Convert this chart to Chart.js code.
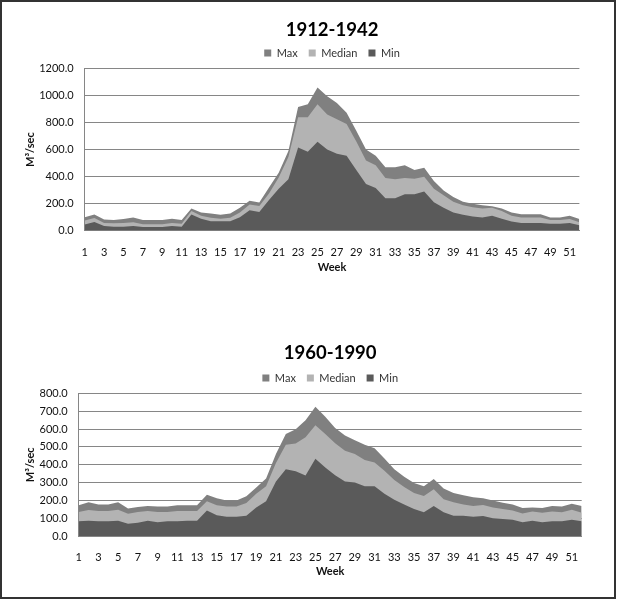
<!DOCTYPE html>
<html>
<head>
<meta charset="utf-8">
<script src="https://cdn.jsdelivr.net/npm/chart.js@4.4.1/dist/chart.umd.min.js"></script>
<style>
body{margin:0;background:#fff;}
#frame{position:absolute;left:0;top:0;width:612px;height:595px;border:2px solid #333;}
canvas{position:absolute;left:0;}
</style>
</head>
<body>
<div id="frame"></div>
<canvas id="chart1" width="620" height="290" style="top:0px"></canvas>
<canvas id="chart2" width="620" height="300" style="top:295px"></canvas>
<script>
var weeks=[1,2,3,4,5,6,7,8,9,10,11,12,13,14,15,16,17,18,19,20,21,22,23,24,25,26,
  27,28,29,30,31,32,33,34,35,36,37,38,39,40,41,42,43,44,45,46,47,48,49,50,51,52];

// 1912-1942
var max1=[100,120,82,80,87,98,80,80,80,88,80,165,135,128,118,128,170,221,208,320,428,590,915,935,1060,995,
  945,872,740,600,555,470,470,485,450,465,368,298,250,215,200,188,180,165,135,122,122,122,98,98,110,87];
var median1=[75,94,57,55,57,62,48,48,48,57,52,145,110,95,88,95,135,193,182,275,393,546,840,840,935,860,
  825,790,660,520,485,390,380,390,385,400,310,262,215,188,173,165,170,145,110,98,98,98,80,80,87,63];
var min1=[45,65,35,30,30,35,28,28,28,35,30,120,88,70,70,70,100,152,138,228,310,381,615,585,658,600,
  570,555,450,345,315,240,240,270,270,290,210,170,135,118,105,98,110,88,68,57,57,57,52,52,57,40];

// 1960-1990
var max2=[173,190,177,177,190,155,163,168,165,165,173,173,173,232,212,200,200,223,272,323,460,573,600,650,725,670,
  607,564,538,512,492,435,375,332,298,280,320,267,241,229,217,212,200,186,177,157,160,157,169,165,181,169];
var median2=[135,146,140,140,148,125,135,140,135,135,140,140,140,195,173,165,165,185,237,280,410,512,520,555,622,573,
  521,478,461,427,413,366,315,275,241,224,263,206,189,177,169,174,160,151,143,126,138,131,138,134,148,131];
var min2=[83,86,83,83,86,69,74,86,77,83,83,86,86,143,117,108,108,113,160,195,306,375,363,340,433,384,
  341,306,301,280,280,237,203,177,151,134,169,134,114,114,108,112,100,95,91,77,86,77,83,83,91,83];

var yTicks1=[0,1200,200];
var yTicks2=[0,800,100];

Chart.defaults.font.family='Lato';

function makeChart(id,title,maxData,medData,minData,yT,geo){
  var ctx=document.getElementById(id);
  new Chart(ctx,{
    type:'line',
    data:{
      labels:weeks,
      datasets:[
        {label:'Max',data:maxData,backgroundColor:'#808080',order:3},
        {label:'Median',data:medData,backgroundColor:'#b3b3b3',order:2},
        {label:'Min',data:minData,backgroundColor:'#5a5a5a',order:1}
      ]
    },
    options:{
      responsive:false,
      animation:false,
      datasets:{line:{fill:'origin',borderWidth:0,pointRadius:0,tension:0}},
      layout:{padding:{left:0,right:geo.right,top:0,bottom:0}},
      plugins:{
        title:{display:true,text:title,fullSize:false,color:'#000',
          font:{size:18.5,weight:'bold',lineHeight:1.2},
          padding:{top:geo.titleTop,bottom:geo.titleBottom}},
        legend:{fullSize:false,labels:{boxWidth:7,boxHeight:7,padding:11,color:'#333',font:{size:11},
          sort:function(a,b){return a.datasetIndex-b.datasetIndex;}}},
        tooltip:{enabled:false}
      },
      scales:{
        x:{
          grid:{display:false},
          border:{color:'#868686'},
          ticks:{autoSkip:false,maxRotation:0,padding:7,color:'#111',font:{size:11},
            callback:function(v,i){return i%2==0?weeks[i]:'';}},
          title:{display:true,text:'Week',color:'#111',font:{size:11,weight:'bold'},padding:{top:0,bottom:geo.weekPad}},
          afterFit:function(s){s.height=geo.xH;}
        },
        y:{
          min:yT[0],max:yT[1],
          ticks:{stepSize:yT[2],padding:11,color:'#111',font:{size:11},
            callback:function(v){return v.toFixed(1);}},
          grid:{color:'#868686',drawTicks:false},
          border:{color:'#868686'},
          title:{display:true,text:'M³/sec',color:'#111',font:{size:11,weight:'bold'},padding:{top:23.4,bottom:0}},
          afterFit:function(s){s.width=geo.yW;}
        }
      }
    },
    plugins:[{
      id:'legendHeight',
      beforeInit:function(chart){
        chart.legend.afterFit=function(){this.height=geo.legendH;};
      }
    }]
  });
}

makeChart('chart1','1912-1942',max1,median1,min1,yTicks1,
  {titleTop:18.9,titleBottom:-4.6,legendH:23.5,xH:59.3,weekPad:16.4,right:40.6,yW:84.7});
makeChart('chart2','1960-1990',max2,median2,min2,yTicks2,
  {titleTop:46.9,titleBottom:-2.6,legendH:19.5,xH:59,weekPad:17.4,right:38.3,yW:78.7});
</script>
</body>
</html>
